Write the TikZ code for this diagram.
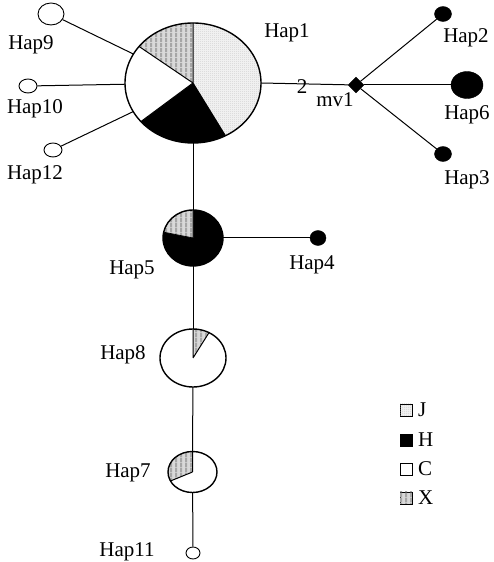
\documentclass[tikz,border=0pt]{standalone}
\usepackage{fontspec}
\setmainfont{Liberation Serif}
\usetikzlibrary{shapes.geometric,patterns}
\pgfdeclarepatternformonly{vstripes}{\pgfpointorigin}{\pgfpoint{5pt}{5pt}}{\pgfpoint{5pt}{5pt}}{\pgfpathrectangle{\pgfpointorigin}{\pgfpoint{2.5pt}{5pt}}\pgfusepath{fill}}
\pgfdeclarepatternformonly{fdots}{\pgfpointorigin}{\pgfpoint{2pt}{2pt}}{\pgfpoint{2pt}{2pt}}{\pgfpathcircle{\pgfpoint{1pt}{1pt}}{0.45pt}\pgfusepath{fill}}
\newcommand\pieslice[6]{%
  \path[#6] (#1) -- ++(#4:#2 and #3) arc[start angle=#4,end angle=#5,x radius=#2,y radius=#3] -- cycle;}
\tikzset{
  hap/.style={ellipse,draw,line width=1.4pt,inner sep=0pt,outer sep=0pt},
  blk/.style={ellipse,draw,fill=black,inner sep=0pt,outer sep=0pt},
  lbl/.style={font=\fontsize{21}{23}\selectfont,inner sep=0pt},
  jfill/.style={fill=gray!12,postaction={pattern=fdots,pattern color=gray!55}},
  hfill/.style={fill=black},
  cfill/.style={fill=white},
  xfill/.style={fill=gray!30,postaction={pattern=vstripes,pattern color=gray!70}},
  conn/.style={line width=1pt},
  legbox/.style={draw,line width=0.6pt,minimum size=12pt,inner sep=0pt}
}
\begin{document}
\begin{tikzpicture}[x=1pt,y=1pt]
\useasboundingbox (0,0) rectangle (494,562);
% pie slices
\coordinate (c1) at (193,479);
\pieslice{c1}{68}{60}{-61.5}{90}{jfill}
\pieslice{c1}{68}{60}{220}{298.5}{hfill}
\pieslice{c1}{68}{60}{142.5}{220}{cfill}
\pieslice{c1}{68}{60}{90}{142.5}{xfill}
\draw[line width=1pt] (c1) -- ++(-61.5:68 and 60) (c1) -- ++(220:68 and 60) (c1) -- ++(142.5:68 and 60) (c1) -- ++(90:68 and 60);
\coordinate (c5) at (193,324);
\pieslice{c5}{30}{28}{168}{450}{hfill}
\pieslice{c5}{30}{28}{90}{168}{xfill}
\draw[line width=0.8pt] (c5) -- ++(90:30 and 28) (c5) -- ++(168:30 and 28);
\coordinate (c8) at (193,204);
\pieslice{c8}{33}{29}{61}{90}{xfill}
\draw[line width=1pt] (c8) -- ++(61:33 and 29) (c8) -- ++(90:33 and 29);
\coordinate (c7) at (192.5,90);
\pieslice{c7}{24.5}{20.5}{90}{206}{xfill}
\draw[line width=1pt] (c7) -- ++(90:24.5 and 20.5) (c7) -- ++(206:24.5 and 20.5);
% nodes
\node[hap,minimum width=136pt,minimum height=120pt] (hap1) at (c1) {};
\node[hap,minimum width=60pt,minimum height=56pt] (hap5) at (c5) {};
\node[hap,minimum width=66pt,minimum height=58pt] (hap8) at (c8) {};
\node[hap,minimum width=49pt,minimum height=41pt] (hap7) at (c7) {};
\node[ellipse,draw,line width=0.9pt,inner sep=0pt,minimum width=14pt,minimum height=12pt] (hap11) at (193,9) {};
\node[ellipse,draw,line width=0.9pt,inner sep=0pt,minimum width=26pt,minimum height=22pt] (hap9) at (51,548) {};
\node[ellipse,draw,line width=0.9pt,inner sep=0pt,minimum width=18pt,minimum height=14pt] (hap10) at (28,476) {};
\node[ellipse,draw,line width=0.9pt,inner sep=0pt,minimum width=18pt,minimum height=14pt] (hap12) at (53,412) {};
\node[blk,minimum width=16pt,minimum height=15pt] (hap4) at (318,324) {};
\node[blk,minimum width=17pt,minimum height=15pt] (hap2) at (443,548) {};
\node[blk,minimum width=17pt,minimum height=15pt] (hap3) at (443,408) {};
\node[blk,minimum width=32pt,minimum height=27pt] (hap6) at (467,477) {};
\node[diamond,draw,fill=black,inner sep=0pt,minimum width=16pt,minimum height=16pt] (mv1) at (356,477) {};
% connectors
\draw[conn] (hap9) -- (hap1);
\draw[conn] (hap10) -- (hap1);
\draw[conn] (hap12) -- (hap1);
\draw[conn] (hap1.east) -- (mv1);
\draw[conn] (mv1) -- (hap2);
\draw[conn] (mv1) -- (hap6);
\draw[conn] (mv1) -- (hap3);
\draw[conn] (hap1) -- (hap5);
\draw[conn] (hap5) -- (hap4);
\draw[conn] (hap5) -- (hap8);
\draw[conn] (hap8) -- (hap7);
\draw[conn] (hap7) -- (hap11);
% labels
\node[lbl] at (287,529) {Hap1};
\node[lbl] at (302,475) {2};
\node[lbl] at (335,462) {mv1};
\node[lbl] at (466,524) {Hap2};
\node[lbl] at (467,447) {Hap6};
\node[lbl] at (467,382) {Hap3};
\node[lbl] at (31,517) {Hap9};
\node[lbl] at (35,453) {Hap10};
\node[lbl] at (35,387) {Hap12};
\node[lbl] at (132,292) {Hap5};
\node[lbl] at (312,297) {Hap4};
\node[lbl] at (123,207) {Hap8};
\node[lbl] at (128,89) {Hap7};
\node[lbl] at (127,10) {Hap11};
% legend
\node[legbox,jfill] (lj) at (406,152) {};
\node[legbox,hfill] (lh) at (406,122) {};
\node[legbox,cfill] (lc) at (406,93) {};
\node[legbox,xfill] (lx) at (406,64) {};
\node[lbl,anchor=west] at (418,152) {J};
\node[lbl,anchor=west] at (418,122) {H};
\node[lbl,anchor=west] at (418,93) {C};
\node[lbl,anchor=west] at (418,64) {X};
\end{tikzpicture}
\end{document}
